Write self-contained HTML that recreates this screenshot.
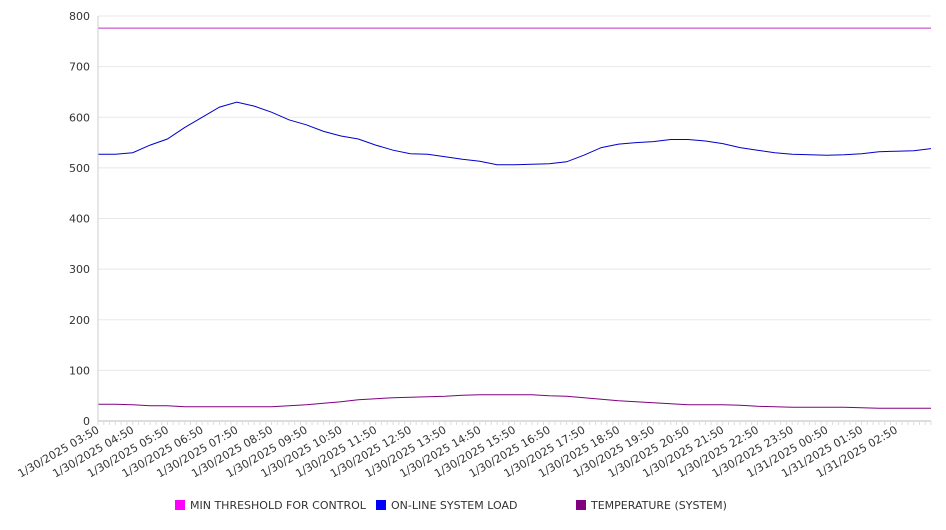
<!DOCTYPE html>
<html><head><meta charset="utf-8"><style>
body{margin:0;background:#fff;width:946px;height:526px;overflow:hidden;font-family:"DejaVu Sans","Liberation Sans",sans-serif}
text{font-family:"DejaVu Sans","Liberation Sans",sans-serif;font-size:11px;fill:#333}
</style></head><body>
<svg id="chart" width="946" height="526" xmlns="http://www.w3.org/2000/svg">
<g id="grid"></g>
<g id="series"></g>
<g id="axes"></g>
<g id="legend"></g>
</svg>
<script>
const xLabels=["1/30/2025 03:50","1/30/2025 04:50","1/30/2025 05:50","1/30/2025 06:50","1/30/2025 07:50","1/30/2025 08:50","1/30/2025 09:50","1/30/2025 10:50","1/30/2025 11:50","1/30/2025 12:50","1/30/2025 13:50","1/30/2025 14:50","1/30/2025 15:50","1/30/2025 16:50","1/30/2025 17:50","1/30/2025 18:50","1/30/2025 19:50","1/30/2025 20:50","1/30/2025 21:50","1/30/2025 22:50","1/30/2025 23:50","1/31/2025 00:50","1/31/2025 01:50","1/31/2025 02:50"];
const yTicks=[0,100,200,300,400,500,600,700,800];
// values at half-hour steps from 03:50
const loadSeries=[527,527,530,545,557,580,600,620,630,622,610,595,585,572,563,557,545,535,528,527,522,517,513,506,506,507,508,512,525,540,547,550,552,556,556,553,548,540,535,530,527,526,525,526,528,532,533,534,538];
const tempSeries=[33,33,32,30,30,28,28,28,28,28,28,30,32,35,38,42,44,46,47,48,49,51,52,52,52,52,50,49,46,43,40,38,36,34,32,32,32,31,29,28,27,27,27,27,26,25,25,25,25];
const thresholdSeries=[776,776];
const legendLabels=["MIN THRESHOLD FOR CONTROL","ON-LINE SYSTEM LOAD","TEMPERATURE (SYSTEM)"];
const legendColors=["#ff00ff","#0000ff","#800080"];

const NS="http://www.w3.org/2000/svg";
const X0=98,X1=931,Y0=421,Y1=16,HOURS=24;
const xh=h=>X0+(X1-X0)*h/HOURS;
const y=v=>Y0-(Y0-Y1)*v/800;
function mk(tag,attrs,parent){const e=document.createElementNS(NS,tag);for(const k in attrs)e.setAttribute(k,attrs[k]);parent.appendChild(e);return e;}
const grid=document.getElementById('grid'),axes=document.getElementById('axes'),series=document.getElementById('series'),legend=document.getElementById('legend');
yTicks.forEach(v=>{
 const l=mk('line',{x1:X0,x2:X1,y1:y(v),y2:y(v),stroke:v===0?'#bbb':'#e8e8e8'},grid);
 
 
 const t=mk('text',{x:90,y:y(v)+4,'text-anchor':'end'},axes);
 t.textContent=v;
 
 
});
mk('line',{x1:X0,x2:X0,y1:Y1,y2:Y0,stroke:'#ccc'},axes);
for(let i=0;i<=HOURS*6;i++){const x=xh(i/6);mk('line',{x1:x,x2:x,y1:Y0,y2:Y0+4,stroke:'#ddd'},axes);}
xLabels.forEach((s,i)=>{
 const x=xh(i)+2;
 const t=mk('text',{x:x,y:Y0+11,'text-anchor':'end',transform:`rotate(-30 ${x} ${Y0+11})`},axes);
 t.textContent=s;
 
 
});
function line(vals,color,name){
 const n=vals.length-1;
 const pts=vals.map((v,i)=>xh(HOURS*i/n).toFixed(1)+','+y(v).toFixed(1)).join(' ');
 const p=mk('polyline',{points:pts,fill:'none',stroke:color,'stroke-width':1},series);
 
 
}
line(thresholdSeries,'#c030c0','threshold-line');
line(loadSeries,'#0000cc','load-line');
line(tempSeries,'#800080','temperature-line');
const lx=[175,376,576];
legendLabels.forEach((s,i)=>{
 const r=mk('rect',{x:lx[i],y:500,width:10,height:10,fill:legendColors[i]},legend);
 
 
 const t=mk('text',{x:lx[i]+15,y:509},legend);
 t.textContent=s;
 
 
});
</script>
</body></html>
